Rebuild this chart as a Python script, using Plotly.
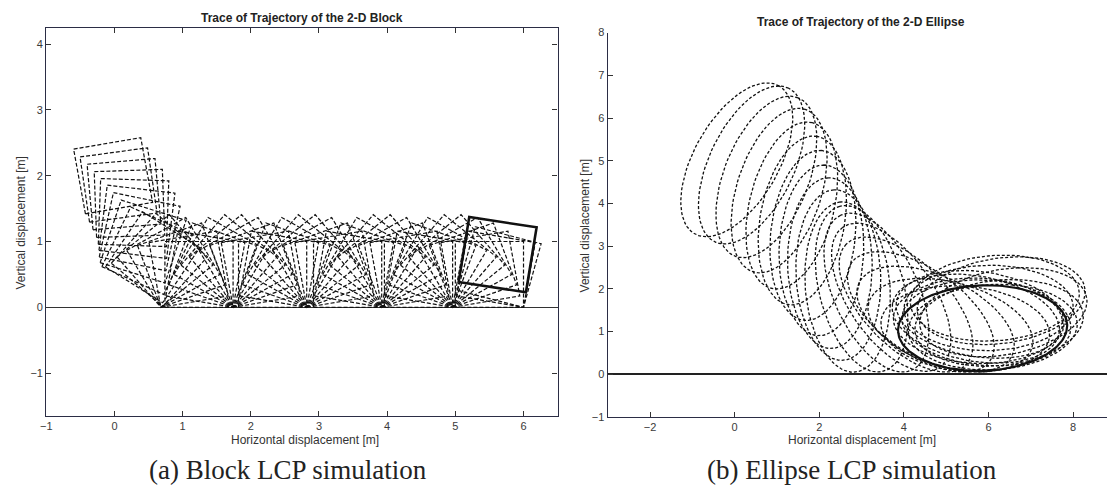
import numpy as np
import plotly.graph_objects as go

W, H = 1107, 495

# ---- 2-D block: snapshot states (centre x, centre y, orientation in degrees) ----
block_cx = [-0.02, 0.06, 0.14, 0.22, 0.28, 0.33, 0.37, 0.42, 0.48, 0.56, 0.66,
            0.742, 0.863, 0.979, 1.086,
            1.240, 1.334, 1.441, 1.557, 1.678, 1.802, 1.923, 2.039, 2.146,
            2.320, 2.414, 2.521, 2.637, 2.758, 2.882, 3.003, 3.119, 3.226,
            3.420, 3.514, 3.621, 3.737, 3.858, 3.982, 4.103, 4.219, 4.326,
            4.460, 4.554, 4.661, 4.777, 4.898, 5.022, 5.143, 5.259, 5.366,
            5.500, 5.594, 5.646]
block_cy = [2.00, 1.86, 1.72, 1.58, 1.44, 1.30, 1.15, 1.00, 0.86, 0.76, 0.72,
            0.704, 0.683, 0.641, 0.579,
            0.500, 0.579, 0.641, 0.683, 0.704, 0.704, 0.683, 0.641, 0.579,
            0.500, 0.579, 0.641, 0.683, 0.704, 0.704, 0.683, 0.641, 0.579,
            0.500, 0.579, 0.641, 0.683, 0.704, 0.704, 0.683, 0.641, 0.579,
            0.500, 0.579, 0.641, 0.683, 0.704, 0.704, 0.683, 0.641, 0.579,
            0.500, 0.579, 0.612]
block_ang = [10, 8, 5, 2, -2, -7, -12, -18, -25, -33, -41,
             -50, -60, -70, -80,
             0, -10, -20, -30, -40, -50, -60, -70, -80,
             0, -10, -20, -30, -40, -50, -60, -70, -80,
             0, -10, -20, -30, -40, -50, -60, -70, -80,
             0, -10, -20, -30, -40, -50, -60, -70, -80,
             0, -10, -15]
block_side = 1.0
block_final = [5.62, 0.80, -9]

# ---- 2-D ellipse: snapshot states (centre x, centre y, major-axis angle in degrees) ----
ell_cx = [0.05, 0.40, 0.75, 1.05, 1.35, 1.60, 1.85, 2.05, 2.25, 2.45, 2.67,
          3.00, 3.35, 3.70, 4.05, 4.40, 4.75, 5.10, 5.45,
          5.75, 6.00, 6.15, 6.30, 6.35, 6.25, 6.10, 5.95, 5.80, 5.70]
ell_cy = [5.02, 4.90, 4.62, 4.30, 3.95, 3.60, 3.25, 2.90, 2.60, 2.32, 2.04,
          2.00, 1.91, 1.80, 1.63, 1.46, 1.29, 1.15, 1.06,
          1.25, 1.55, 1.78, 1.72, 1.45, 1.20, 1.10, 1.20, 1.40, 1.30]
ell_ang = [60, 64, 68, 72, 76, 80, 84, 88, 91, 93, 95,
           105, 115, 125, 135, 145, 155, 165, 175,
           178, 181, 184, 188, 190, 186, 183, 176, 172, 170]
ell_a, ell_b = 2.0, 1.0
ell_final = [5.86, 1.08, 182]

# axis ticks
blk_xticks = [-1, 0, 1, 2, 3, 4, 5, 6]
blk_yticks = [-1, 0, 1, 2, 3, 4]
ell_xticks = [-2, 0, 2, 4, 6, 8]
ell_yticks = [-1, 0, 1, 2, 3, 4, 5, 6, 7, 8]


def square_outline(cx, cy, ang, side):
    t = np.radians(ang)
    h = side / 2.0
    pts = np.array([[-h, -h], [h, -h], [h, h], [-h, h], [-h, -h]])
    rot = np.array([[np.cos(t), -np.sin(t)], [np.sin(t), np.cos(t)]])
    p = pts @ rot.T
    return p[:, 0] + cx, p[:, 1] + cy


def ellipse_outline(cx, cy, ang, a, b, n=90):
    t = np.linspace(0, 2 * np.pi, n)
    phi = np.radians(ang)
    x = a * np.cos(t)
    y = b * np.sin(t)
    return (cx + x * np.cos(phi) - y * np.sin(phi),
            cy + x * np.sin(phi) + y * np.cos(phi))


def joined(outlines):
    xs, ys = [], []
    for x, y in outlines:
        xs += list(x) + [None]
        ys += list(y) + [None]
    return xs, ys


fig = go.Figure()

bx, by = joined(square_outline(x, y, a, block_side)
                for x, y, a in zip(block_cx, block_cy, block_ang))
fig.add_trace(go.Scatter(x=bx, y=by, mode="lines", xaxis="x", yaxis="y",
                         line=dict(color="#111", width=1.2, dash="4px,2px"),
                         hoverinfo="skip", showlegend=False))
fx, fy = square_outline(*block_final, block_side)
fig.add_trace(go.Scatter(x=fx, y=fy, mode="lines", xaxis="x", yaxis="y",
                         line=dict(color="#111", width=2.6),
                         hoverinfo="skip", showlegend=False))

ex, ey = joined(ellipse_outline(x, y, a, ell_a, ell_b)
                for x, y, a in zip(ell_cx, ell_cy, ell_ang))
fig.add_trace(go.Scatter(x=ex, y=ey, mode="lines", xaxis="x2", yaxis="y2",
                         line=dict(color="#111", width=1.3, dash="3px,2px"),
                         hoverinfo="skip", showlegend=False))
gx, gy = ellipse_outline(*ell_final, ell_a, ell_b, n=180)
fig.add_trace(go.Scatter(x=gx, y=gy, mode="lines", xaxis="x2", yaxis="y2",
                         line=dict(color="#111", width=2.2),
                         hoverinfo="skip", showlegend=False))


def px(x):
    return x / W


def py(y):
    return 1 - y / H


tick_font = dict(family="Liberation Sans, Arial, sans-serif", size=11, color="#3a3a3a")
axis_common = dict(showgrid=False, ticks="inside", ticklen=5, tickwidth=1,
                   tickcolor="#333", linecolor="#2b2d45", linewidth=1.2,
                   showline=True, tickfont=tick_font, fixedrange=True)

fig.update_layout(
    width=W, height=H, autosize=False,
    margin=dict(l=0, r=0, t=0, b=0),
    paper_bgcolor="white", plot_bgcolor="white",
    xaxis=dict(axis_common, domain=[px(40.5), px(554.6)], range=[-1, 6.5],
               tickvals=blk_xticks, mirror="ticks", anchor="y", zeroline=False),
    yaxis=dict(axis_common, domain=[py(420), py(22.3)], range=[-1.65, 4.25],
               tickvals=blk_yticks, mirror="ticks", anchor="x",
               zeroline=True, zerolinecolor="#333", zerolinewidth=1.3),
    xaxis2=dict(axis_common, domain=[px(605), 1.0], range=[-3, 8.8],
                tickvals=ell_xticks, anchor="y2", zeroline=False),
    yaxis2=dict(axis_common, domain=[py(421), py(27.3)], range=[-1, 8],
                tickvals=ell_yticks, anchor="x2",
                zeroline=True, zerolinecolor="#222", zerolinewidth=2),
)

label_font = dict(family="Liberation Sans, Arial, sans-serif", size=12, color="#333")
title_font = dict(family="Liberation Sans, Arial, sans-serif", size=12, color="#222")
cap_font = dict(family="Liberation Serif, Times New Roman, serif", size=27, color="#222")

texts = [
    (298, 12, "<b>Trace of Trajectory of the 2-D Block</b>", title_font, 0),
    (860, 16, "<b>Trace of Trajectory of the 2-D Ellipse</b>", title_font, 0),
    (301, 445, "Horizontal displacement [m]", label_font, 0),
    (861, 445, "Horizontal displacement [m]", label_font, 0),
    (15, 222, "Vertical displacement [m]", label_font, -90),
    (582, 225, "Vertical displacement [m]", label_font, -90),
    (284, 476, "(a) Block LCP simulation", cap_font, 0),
    (851, 476, "(b) Ellipse LCP simulation", cap_font, 0),
]
for x, y, s, f, rot in texts:
    fig.add_annotation(x=px(x), y=py(y), xref="paper", yref="paper", text=s,
                       showarrow=False, font=f, textangle=rot,
                       xanchor="center", yanchor="middle")

fig.write_html("out.html")
